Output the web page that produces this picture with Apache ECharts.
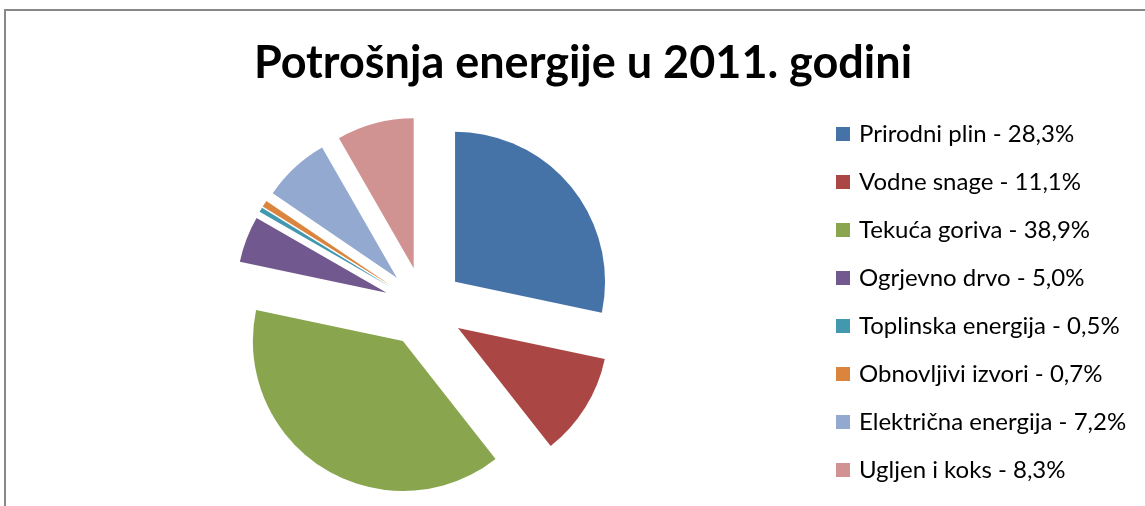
<!DOCTYPE html>
<html>
<head>
<meta charset="utf-8">
<script src="https://cdn.jsdelivr.net/npm/echarts@6/dist/echarts.min.js"></script>
<style>
  html, body { margin: 0; padding: 0; background: #ffffff; }
  #chart { width: 1145px; height: 506px; }
</style>
</head>
<body>
<div id="chart"></div>
<script>
// Energy consumption shares, 2011 (percent)
const categories = [
  'Prirodni plin',
  'Vodne snage',
  'Tekuća goriva',
  'Ogrjevno drvo',
  'Toplinska energija',
  'Obnovljivi izvori',
  'Električna energija',
  'Ugljen i koks'
];
const shares = [28.3, 11.1, 38.9, 5.0, 0.5, 0.7, 7.2, 8.3];
const palette = ['#4572A7', '#AA4643', '#89A54E', '#71588F', '#4198AF', '#DB843D', '#93A9CF', '#D19392'];
const titleText = 'Potrošnja energije u 2011. godini';

const fmt = v => v.toFixed(1).replace('.', ',');
const shareByName = {};
categories.forEach((c, i) => { shareByName[c] = shares[i]; });

const chart = echarts.init(document.getElementById('chart'), null, { renderer: 'canvas' });

chart.setOption({
  animation: false,
  backgroundColor: '#ffffff',
  color: palette,
  title: {
    text: titleText,
    left: 578,
    textAlign: 'center',
    top: 36,
    textStyle: {
      fontFamily: 'Lato',
      fontWeight: 'bold',
      fontSize: 45,
      color: '#000000'
    }
  },
  legend: {
    orient: 'vertical',
    left: 831,
    top: 116,
    icon: 'rect',
    itemWidth: 14,
    itemHeight: 14,
    itemGap: 22,
    selectedMode: false,
    formatter: name => name + ' - ' + fmt(shareByName[name]) + '%',
    textStyle: {
      fontFamily: 'Lato',
      fontSize: 24,
      lineHeight: 26,
      color: '#000000',
      padding: [0, 0, 0, 4]
    }
  },
  graphic: [{
    type: 'rect',
    silent: true,
    shape: { x: 5, y: 10, width: 1300, height: 700 },
    style: { fill: 'none', stroke: '#888888', lineWidth: 2 }
  }],
  series: [{
    type: 'pie',
    center: [424, 307],
    radius: 150,
    startAngle: 90,
    clockwise: true,
    selectedMode: 'multiple',
    selectedOffset: 40,
    label: { show: false },
    labelLine: { show: false },
    emphasis: { disabled: true },
    data: categories.map((c, i) => ({ name: c, value: shares[i], selected: true }))
  }]
});
</script>
</body>
</html>
